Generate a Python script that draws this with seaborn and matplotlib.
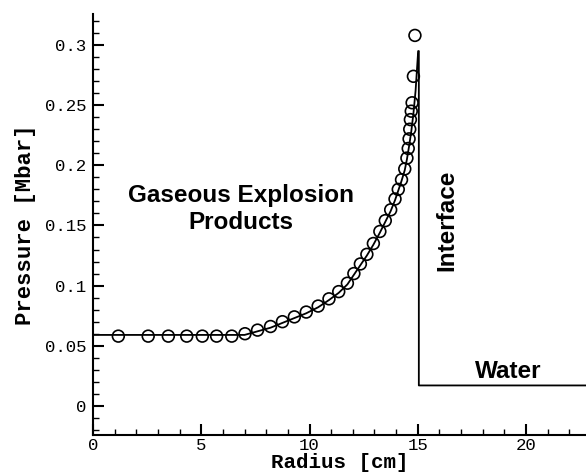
import matplotlib
matplotlib.use("Agg")
import matplotlib.pyplot as plt
import seaborn as sns
import pandas as pd
from matplotlib.ticker import MultipleLocator, FixedLocator

# ---- data ----
line_r = [0.0, 7.0, 7.6, 8.2, 8.75, 9.3, 9.85, 10.4, 10.9, 11.35, 11.75, 12.05,
          12.35, 12.65, 12.95, 13.25, 13.5, 13.75, 13.95, 14.1, 14.25, 14.4,
          14.5, 14.6, 14.7, 14.8, 14.9, 15.02, 15.05, 15.05, 22.8]
line_p = [0.059, 0.059, 0.062, 0.065, 0.069, 0.073, 0.077, 0.082, 0.088, 0.094,
          0.101, 0.109, 0.117, 0.125, 0.134, 0.144, 0.153, 0.162, 0.171, 0.179,
          0.187, 0.196, 0.205, 0.216, 0.228, 0.243, 0.262, 0.295, 0.295, 0.017, 0.017]

circle_r = [1.17, 2.55, 3.48, 4.33, 5.05, 5.71, 6.41, 7.02, 7.6, 8.2, 8.75, 9.3,
            9.85, 10.4, 10.9, 11.35, 11.75, 12.05, 12.35, 12.65, 12.95, 13.25,
            13.5, 13.75, 13.95, 14.1, 14.25, 14.4, 14.5, 14.56, 14.6, 14.63,
            14.66, 14.7, 14.74, 14.8, 14.87]
circle_p = [0.058, 0.058, 0.058, 0.058, 0.058, 0.058, 0.058, 0.060, 0.063, 0.066,
            0.070, 0.074, 0.078, 0.083, 0.089, 0.095, 0.102, 0.110, 0.118, 0.126,
            0.135, 0.145, 0.154, 0.163, 0.172, 0.180, 0.188, 0.197, 0.206, 0.214,
            0.222, 0.230, 0.238, 0.245, 0.252, 0.274, 0.308]

x_ticks = [0, 5, 10, 15, 20]
x_tick_labels = ["0", "5", "10", "15", "20"]
y_ticks = [0, 0.05, 0.1, 0.15, 0.2, 0.25, 0.3]
y_tick_labels = ["0", "0.05", "0.1", "0.15", "0.2", "0.25", "0.3"]

line_df = pd.DataFrame({"r": line_r, "p": line_p})
circ_df = pd.DataFrame({"r": circle_r, "p": circle_p})

# ---- style ----
sns.set_style("ticks")
plt.rcParams["font.family"] = ["Liberation Sans", "DejaVu Sans"]

fig = plt.figure(figsize=(5.86, 4.75), dpi=100)
ax = fig.add_axes([93 / 586, 40 / 475, (586 - 93) / 586, (435 - 14) / 475])

sns.lineplot(data=line_df, x="r", y="p", sort=False, estimator=None,
             color="black", linewidth=1.3, ax=ax)
sns.scatterplot(data=circ_df, x="r", y="p", s=72, marker="o",
                facecolors="none", edgecolor="black", linewidth=1.2, ax=ax,
                zorder=3)

ax.set_xlim(0, (586 - 93) / 21.65)
ax.set_ylim(-0.0242, 0.3258)

sns.despine(ax=ax)
for s in ["left", "bottom"]:
    ax.spines[s].set_linewidth(1.5)
    ax.spines[s].set_color("black")

ax.xaxis.set_major_locator(FixedLocator(x_ticks))
ax.set_xticklabels(x_tick_labels)
ax.yaxis.set_major_locator(FixedLocator(y_ticks))
ax.set_yticklabels(y_tick_labels)
ax.xaxis.set_minor_locator(MultipleLocator(1))
ax.yaxis.set_minor_locator(MultipleLocator(0.01))

ax.tick_params(which="major", direction="in", length=8, width=1.5,
               color="black", pad=5)
ax.tick_params(axis="x", which="major", pad=2.5)
ax.tick_params(which="minor", direction="in", length=4, width=1.0,
               color="black")
for lab in ax.get_xticklabels() + ax.get_yticklabels():
    lab.set_family("Liberation Mono")
    lab.set_fontsize(12.5)
    lab.set_color("black")

ax.set_xlabel("Radius [cm]", family="Liberation Mono", fontweight="bold",
              fontsize=15, labelpad=-0.5, color="black")
ax.set_ylabel("Pressure [Mbar]", family="Liberation Mono", fontweight="bold",
              fontsize=16, labelpad=6, color="black")

txt_kw = dict(fontsize=17.5, fontweight="bold", color="black",
              family="Liberation Sans")
ax.text(6.84, 0.1695, "Gaseous Explosion", ha="center", va="baseline", **txt_kw)
ax.text(6.84, 0.147, "Products", ha="center", va="baseline", **txt_kw)
ax.text(16.63, 0.1546, "Interface", rotation=90, rotation_mode="anchor",
        ha="center", va="baseline", **txt_kw)
ax.text(19.2, 0.0233, "Water", ha="center", va="baseline", **txt_kw)

fig.savefig("out.png", dpi=100, facecolor="white")
